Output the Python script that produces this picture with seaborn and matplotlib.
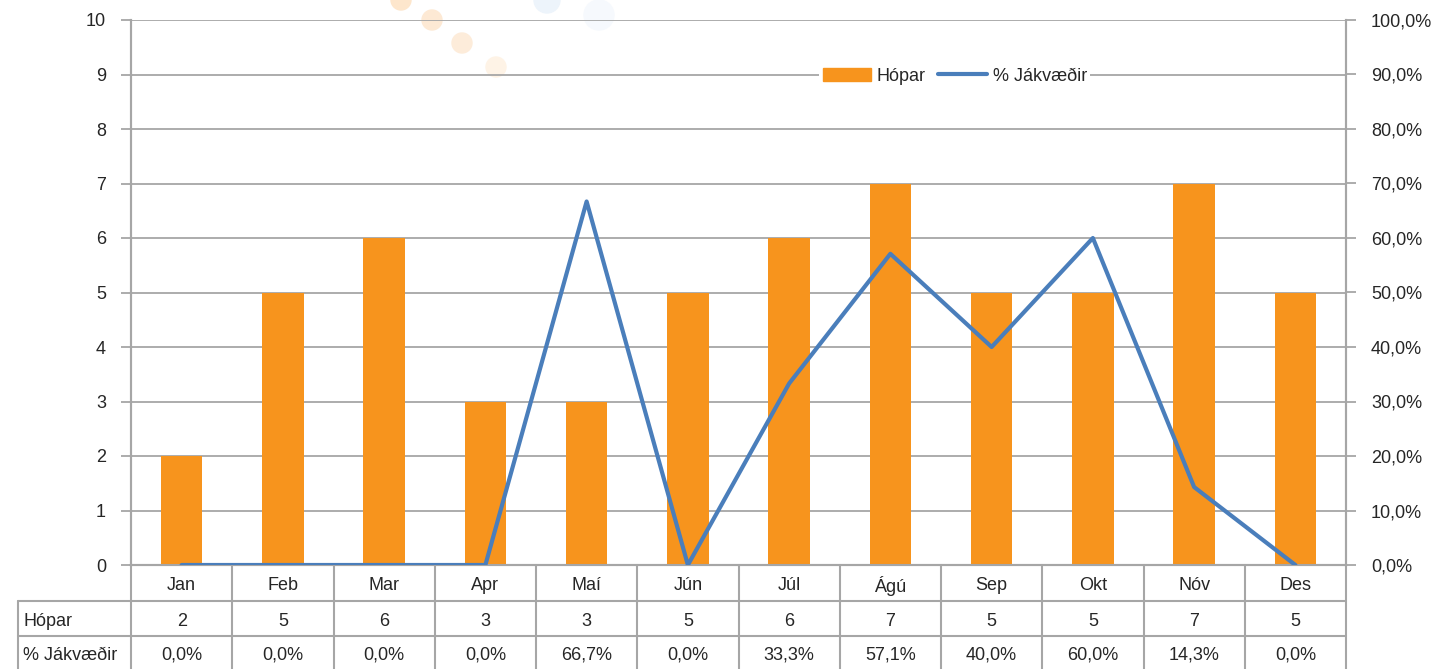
import matplotlib
matplotlib.use("Agg")
import numpy as np
import pandas as pd
import matplotlib.pyplot as plt
import matplotlib.transforms as mtransforms
from matplotlib.patches import Circle, Patch
from matplotlib.lines import Line2D
import seaborn as sns

months = ["Jan", "Feb", "Mar", "Apr", "Maí", "Jún", "Júl", "Ágú", "Sep", "Okt", "Nóv", "Des"]
hopar = [2, 5, 6, 3, 3, 5, 6, 7, 5, 5, 7, 5]
jakvaedir = [0.0, 0.0, 0.0, 0.0, 66.7, 0.0, 33.3, 57.1, 40.0, 60.0, 14.3, 0.0]
row_labels = ["Hópar", "% Jákvæðir"]

BAR = "#f7941d"
LINE = "#4a7ebb"
GRID = "#a6a6a6"
FS = 13

sns.set_theme(style="white")
plt.rcParams["font.family"] = ["Liberation Sans", "DejaVu Sans"]

df = pd.DataFrame({"month": months, "pos": range(len(months)),
                   "hopar": hopar, "pct": jakvaedir})

fig = plt.figure(figsize=(14.36, 6.69), dpi=100)
ax = fig.add_axes([131 / 1436, 1 - 565 / 669, 1215 / 1436, 545 / 669])

# faint decorative dots at the top
for (x, y, r, c) in [(401, 0, 10, "#fde6cc"), (432, 20, 10, "#fde9d4"),
                     (462, 43, 10, "#fdecda"), (496, 67, 10, "#fef3e6"),
                     (547, 0, 13, "#edf4fb"), (599, 15, 15, "#f6f9fd")]:
    fig.add_artist(Circle((x / 100, (669 - y) / 100), r / 100,
                          transform=fig.dpi_scale_trans, color=c, zorder=0))

sns.barplot(data=df, x="pos", y="hopar", color=BAR, width=0.41,
            saturation=1, linewidth=0, ax=ax, zorder=3)
ax.set_xlim(-0.5, 11.5)
ax.set_ylim(0, 10)
ax.set_yticks(range(0, 11))
ax.yaxis.grid(True, color=GRID, lw=1.3, zorder=0)
ax.set_axisbelow(True)
ax.set_xticks([])
ax.set_xlabel("")
ax.set_ylabel("")
ax.tick_params(axis="y", labelsize=FS, length=7, width=1.3, color=GRID,
               pad=11, left=True)
ax.patch.set_alpha(0)

ax2 = ax.twinx()
sns.lineplot(data=df, x="pos", y="pct", color=LINE, lw=3, ax=ax2, zorder=4)
ax2.set_ylim(0, 100)
ax2.set_yticks(range(0, 101, 10))
ax2.set_yticklabels([f"{v:.1f}%".replace(".", ",") for v in range(0, 101, 10)])
ax2.tick_params(axis="y", labelsize=FS, length=7, width=1.3, color=GRID,
                pad=11, right=True)
ax2.set_ylabel("")
ax2.set_xlim(-0.5, 11.5)

for a in (ax, ax2):
    a.spines["top"].set_visible(False)
    for s in ["left", "right", "bottom"]:
        a.spines[s].set_color(GRID)
        a.spines[s].set_linewidth(1.5)

handles = [Patch(color=BAR, label="Hópar"),
           Line2D([0], [0], color=LINE, lw=3, label="% Jákvæðir")]
leg = ax2.legend(handles=handles, loc="center", bbox_to_anchor=(0.678, 0.897),
                 ncol=2, frameon=True, fontsize=FS, handlelength=2.7,
                 handletextpad=0.3, columnspacing=0.7, borderpad=0.2,
                 fancybox=False)
leg.get_frame().set_facecolor("white")
leg.get_frame().set_edgecolor("none")
leg.get_frame().set_alpha(1)

# data table below the plot
tr = mtransforms.blended_transform_factory(ax.transData, ax.transAxes)
h = 545
y_b = [0, -(601 - 565) / h, -(636 - 565) / h, -(669 - 565) / h]
x_left = -0.5 + (18 - 131) / (1215 / 12)
lk = dict(color=GRID, lw=1.5, transform=tr, clip_on=False, zorder=5)
for k in range(13):
    ax.plot([k - 0.5, k - 0.5], [0, y_b[3]], **lk)
ax.plot([x_left, x_left], [y_b[1], y_b[3]], **lk)
for yy in (y_b[1], y_b[2]):
    ax.plot([x_left, 11.5], [yy, yy], **lk)

off = -3 / h
row_vals = [[str(v) for v in hopar],
            [f"{v:.1f}%".replace(".", ",") for v in jakvaedir]]
for i, m in enumerate(months):
    ax.text(i, (y_b[0] + y_b[1]) / 2 + off, m, transform=tr, ha="center",
            va="center", fontsize=FS)
    for r in range(2):
        ax.text(i, (y_b[r + 1] + y_b[r + 2]) / 2 + off, row_vals[r][i],
                transform=tr, ha="center", va="center", fontsize=FS)
for r, lab in enumerate(row_labels):
    ax.text(x_left + 0.05, (y_b[r + 1] + y_b[r + 2]) / 2 + off, lab,
            transform=tr, ha="left", va="center", fontsize=FS)

fig.savefig("out.png", dpi=100)
